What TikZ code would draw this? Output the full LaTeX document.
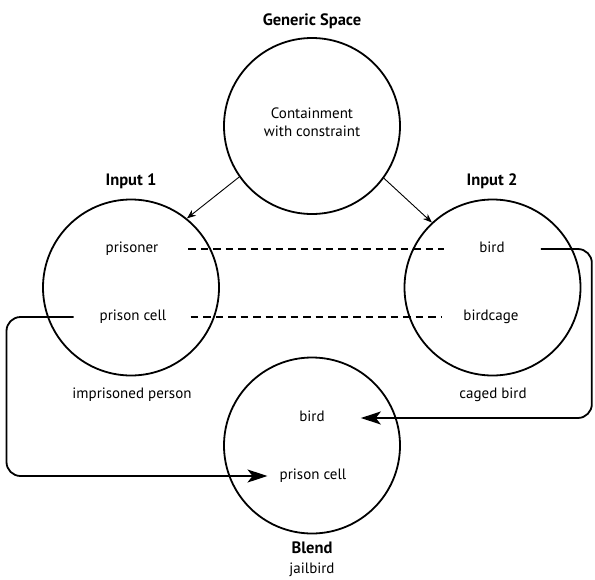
\documentclass[tikz,border=0pt]{standalone}
\usepackage{fontspec}
\setmainfont{PT Sans}
\usetikzlibrary{arrows.meta}
\newcommand{\figureunit}{1pt}
\tikzset{
	space/.style={draw, circle, line width=1.8pt, minimum size=176pt, inner sep=0pt},
	word/.style={font=\fontsize{15}{18}\selectfont, inner sep=0pt, text height=10pt, text depth=3pt},
	heading/.style={word, font=\fontsize{16.5}{18}\selectfont\bfseries},
	feed/.style={line width=0.9pt, -{Stealth[length=9pt,width=7pt]}},
	match/.style={line width=1.8pt, dash pattern=on 7.5pt off 5pt},
	link/.style={line width=1.8pt, rounded corners=14pt, -{Stealth[length=20pt,width=13pt,inset=5pt]}}
}

\begin{document}
\begin{tikzpicture}[x=\figureunit,y=-\figureunit]
	\useasboundingbox (0,0) rectangle (595,579);

	\node [space] (generic) at (312,126) {};
	\node [space] (input1) at (131,287.5) {};
	\node [space] (input2) at (492.5,287.5) {};
	\node [space] (blend) at (312,445.5) {};

	\node [heading] (genericname) at (312,22) {Generic Space};
	\node [heading] (input1name) at (131,182) {Input 1};
	\node [heading] (input2name) at (492,182) {Input 2};
	\node [heading] (blendname) at (312,550) {Blend};

	\node [word, align=center, text height=, text depth=] (containment) at (312,122) {Containment\\with constraint};
	\node [word] (prisoner) at (132,249) {prisoner};
	\node [word] (cell1) at (133,317) {prison cell};
	\node [word] (person) at (132,395) {imprisoned person};
	\node [word] (bird2) at (492,249) {bird};
	\node [word] (cage2) at (491,317) {birdcage};
	\node [word] (caged) at (493,395) {caged bird};
	\node [word] (birdblend) at (312,418) {bird};
	\node [word] (cellblend) at (313,476) {prison cell};
	\node [word] (jailbird) at (312,570) {jailbird};

	\draw [feed] (generic.215) -- (input1.51);
	\draw [feed] (generic.-36) -- (input2.133);

	\draw [match, shorten <=30pt, shorten >=35pt] (prisoner.east) -- (bird2.west);
	\draw [match, shorten <=24pt, shorten >=22pt] (cell1.east) -- (cage2.west);

	\draw [link] ([xshift=36pt]bird2.east) -- ++(51,0) |- ([xshift=36pt]birdblend.east);
	\draw [link] ([xshift=-26pt]cell1.west) -- ++(-67,0) |- ([xshift=-12pt]cellblend.west);

\end{tikzpicture}
\end{document}
